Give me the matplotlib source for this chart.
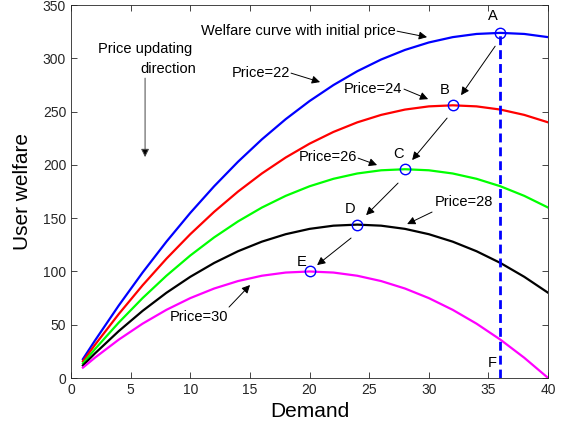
import matplotlib
matplotlib.use("Agg")
import matplotlib.pyplot as plt

plt.rcParams['font.family'] = ['Liberation Sans', 'DejaVu Sans']

# demand samples and welfare values
demand = [1, 2, 4, 6, 8, 10, 12, 14, 16, 18, 20, 22, 24, 26, 28, 30, 32, 34, 36, 38, 40]
welfare_p22 = [17.75, 35, 68, 99, 128, 155, 180, 203, 224, 243, 260, 275, 288, 299, 308, 315, 320, 323, 324, 323, 320]
welfare_p24 = [15.75, 31, 60, 87, 112, 135, 156, 175, 192, 207, 220, 231, 240, 247, 252, 255, 256, 255, 252, 247, 240]
welfare_p26 = [13.75, 27, 52, 75, 96, 115, 132, 147, 160, 171, 180, 187, 192, 195, 196, 195, 192, 187, 180, 171, 160]
welfare_p28 = [11.75, 23, 44, 63, 80, 95, 108, 119, 128, 135, 140, 143, 144, 143, 140, 135, 128, 119, 108, 95, 80]
welfare_p30 = [9.75, 19, 36, 51, 64, 75, 84, 91, 96, 99, 100, 99, 96, 91, 84, 75, 64, 51, 36, 19, 0]

# optimum points A..E
peak_names = ['A', 'B', 'C', 'D', 'E']
peak_demand = [36, 32, 28, 24, 20]
peak_welfare = [324, 256, 196, 144, 100]
initial_demand = 36

dark = '#262626'
fs = 10.5

fig = plt.figure(figsize=(5.68, 4.32), dpi=100)
ax = fig.add_axes([0.125, 0.125, 0.840, 0.863])

ax.plot(demand, welfare_p22, color='#0000ff', lw=1.6)
ax.plot(demand, welfare_p24, color='#ff0000', lw=1.6)
ax.plot(demand, welfare_p26, color='#00ff00', lw=1.6)
ax.plot(demand, welfare_p28, color='black', lw=1.6)
ax.plot(demand, welfare_p30, color='#ff00ff', lw=1.6)

ax.plot([initial_demand, initial_demand], [0, peak_welfare[0]], color='#0000ff',
        lw=2, linestyle=(0, (3.2, 1.8)))
ax.plot(peak_demand, peak_welfare, 'o', ms=7.5, mfc='none', mec='#0000ff', mew=1.0)

# point labels
ax.text(35.39, 339.7, 'A', fontsize=fs, ha='center', va='center')
ax.text(31.36, 270.2, 'B', fontsize=fs, ha='center', va='center')
ax.text(27.42, 210.2, 'C', fontsize=fs, ha='center', va='center')
ax.text(23.40, 158.6, 'D', fontsize=fs, ha='center', va='center')
ax.text(19.37, 108.8, 'E', fontsize=fs, ha='center', va='center')
ax.text(35.30, 14.1, 'F', fontsize=fs, ha='center', va='center')


def arrow(tail, head, color='black'):
    ax.annotate('', xy=head, xytext=tail,
                arrowprops=dict(arrowstyle='-|>', color=color, lw=0.7,
                                mutation_scale=12, shrinkA=0, shrinkB=0,
                                fc='black', ec=color))


# moving arrows between optima
arrow((35.56, 311.5), (32.70, 265.5))
arrow((31.53, 244.0), (28.60, 204.6))
arrow((27.42, 183.0), (24.74, 152.9))
arrow((23.48, 131.4), (20.63, 106.0))

# curve labels
ax.text(27.2, 325.6, 'Welfare curve with initial price', fontsize=fs, ha='right', va='center')
arrow((27.34, 325.6), (29.85, 320.0))
ax.text(18.36, 286.2, 'Price=22', fontsize=fs, ha='right', va='center')
arrow((18.45, 286.2), (20.88, 277.8))
ax.text(27.76, 271.2, 'Price=24', fontsize=fs, ha='right', va='center')
arrow((27.92, 271.2), (29.94, 261.8))
ax.text(23.98, 207.4, 'Price=26', fontsize=fs, ha='right', va='center')
arrow((24.07, 206.4), (25.66, 199.9))
ax.text(30.52, 165.2, 'Price=28', fontsize=fs, ha='left', va='center')
arrow((30.27, 155.8), (28.18, 144.5))
ax.text(8.30, 57.2, 'Price=30', fontsize=fs, ha='left', va='center')
arrow((13.25, 66.6), (15.01, 87.3))

ax.text(6.21, 308.7, 'Price updating', fontsize=fs, ha='center', va='center')
ax.text(8.18, 290.0, 'direction', fontsize=fs, ha='center', va='center')
arrow((6.21, 281.5), (6.21, 207.4), color='#444444')

ax.set_xlim(0, 40)
ax.set_ylim(0, 350)
ax.set_xticks(range(0, 41, 5))
ax.set_yticks(range(0, 351, 50))
ax.tick_params(direction='in', top=True, right=True, length=4, width=0.6,
               colors=dark, labelsize=10, labelcolor=dark)
for s in ax.spines.values():
    s.set_color(dark)
    s.set_linewidth(0.6)

ax.set_xlabel('Demand', fontsize=15, labelpad=4)
ax.set_ylabel('User welfare', fontsize=15, labelpad=8)

fig.savefig('out.png', dpi=100)
